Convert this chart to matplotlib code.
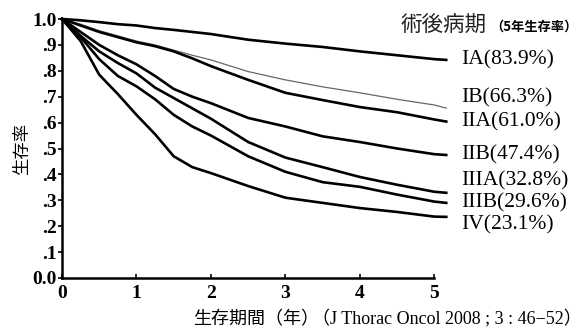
import numpy as np
import matplotlib
matplotlib.use("Agg")
from matplotlib import pyplot as plt

# survival (years, proportion alive)
years = [0, 0.25, 0.5, 0.75, 1, 1.25, 1.5, 1.75, 2, 2.5, 3, 3.5, 4, 4.5, 5, 5.16]
surv_IA = [1.0, 0.995, 0.988, 0.98, 0.975, 0.965, 0.958, 0.95, 0.942, 0.92, 0.905, 0.892, 0.875, 0.86, 0.845, 0.842]
surv_IB = [1.0, 0.98, 0.955, 0.935, 0.915, 0.9, 0.88, 0.86, 0.842, 0.797, 0.765, 0.738, 0.715, 0.69, 0.668, 0.656]
surv_IIA = [1.0, 0.975, 0.95, 0.93, 0.91, 0.895, 0.875, 0.848, 0.818, 0.765, 0.715, 0.687, 0.66, 0.64, 0.612, 0.604]
surv_IIB = [1.0, 0.95, 0.9, 0.86, 0.825, 0.78, 0.73, 0.70, 0.675, 0.618, 0.585, 0.547, 0.525, 0.5, 0.478, 0.475]
surv_IIIA = [1.0, 0.935, 0.875, 0.83, 0.79, 0.735, 0.695, 0.655, 0.615, 0.525, 0.465, 0.428, 0.39, 0.36, 0.333, 0.329]
surv_IIIB = [1.0, 0.93, 0.845, 0.78, 0.74, 0.69, 0.63, 0.585, 0.55, 0.47, 0.41, 0.37, 0.352, 0.322, 0.295, 0.29]
surv_IV = [1.0, 0.915, 0.785, 0.71, 0.63, 0.555, 0.47, 0.428, 0.405, 0.355, 0.31, 0.29, 0.27, 0.255, 0.237, 0.236]

stages = ["IA", "IB", "IIA", "IIB", "IIIA", "IIIB", "IV"]
five_year = ["83.9%", "66.3%", "61.0%", "47.4%", "32.8%", "29.6%", "23.1%"]
curves = [surv_IA, surv_IB, surv_IIA, surv_IIB, surv_IIIA, surv_IIIB, surv_IV]

label_y = [0.842, 0.695, 0.602, 0.475, 0.375, 0.29, 0.205]  # where the stage labels sit

jp = ["Noto Sans CJK JP", "DejaVu Sans"]
serif = ["Liberation Serif", "Noto Sans CJK JP"]

fig = plt.figure(figsize=(5.87, 3.31), dpi=100)
ax = fig.add_axes([62/587, 1-278/331, 385/587, 259/331])

for name, s in zip(stages, curves):
    if name == "IB":
        ax.plot(years, s, color="#666666", lw=0.9, clip_on=False)
    else:
        ax.plot(years, s, color="black", lw=1.9, clip_on=False)

ax.set_xlim(0, 5.17)
ax.set_ylim(0, 1.0)
ax.spines["top"].set_visible(False)
ax.spines["right"].set_visible(False)
ax.spines["bottom"].set_bounds(0, 5)
ax.spines["left"].set_linewidth(1.8)
ax.spines["bottom"].set_linewidth(1.8)

yt = np.arange(0, 1.01, 0.1)
ax.set_yticks(yt)
ax.set_yticklabels(["0.0", ".1", ".2", ".3", ".4", ".5", ".6", ".7", ".8", ".9", "1.0"],
                   fontfamily="Liberation Serif", fontsize=14, fontweight="bold")
ax.set_xticks(range(6))
ax.set_xticklabels([str(i) for i in range(6)], fontfamily="Liberation Serif", fontsize=14,
                   fontweight="bold")
ax.tick_params(axis="y", direction="out", length=3, width=1.2, pad=1)
ax.tick_params(axis="x", direction="in", length=3, width=1.2, pad=5)

fig.text(22/587, 1-149/331, "生存率", rotation=90, ha="center", va="center",
         family=jp, fontsize=12.5)
fig.text(193/587, 1-319/331, "生存期間（年）", ha="left", va="center", family=jp, fontsize=13)
fig.text(312/587, 1-319/331, "（J Thorac Oncol 2008 ; 3 : 46−52）", ha="left", va="center",
         family=serif, fontsize=13)

fig.text(401/587, 1-25/331, "術後病期", ha="left", va="center", family=jp, fontsize=15.5,
         color="#222222")
fig.text(490/587, 1-27/331, "（5年生存率）", ha="left", va="center", family=jp, fontsize=9.5,
         fontweight="bold")

for name, pct, y in zip(stages, five_year, label_y):
    ax.text(5.36, y, f"{name}({pct})", ha="left", va="center", family=serif, fontsize=15.5,
            clip_on=False)

fig.savefig("out.png", dpi=100)
